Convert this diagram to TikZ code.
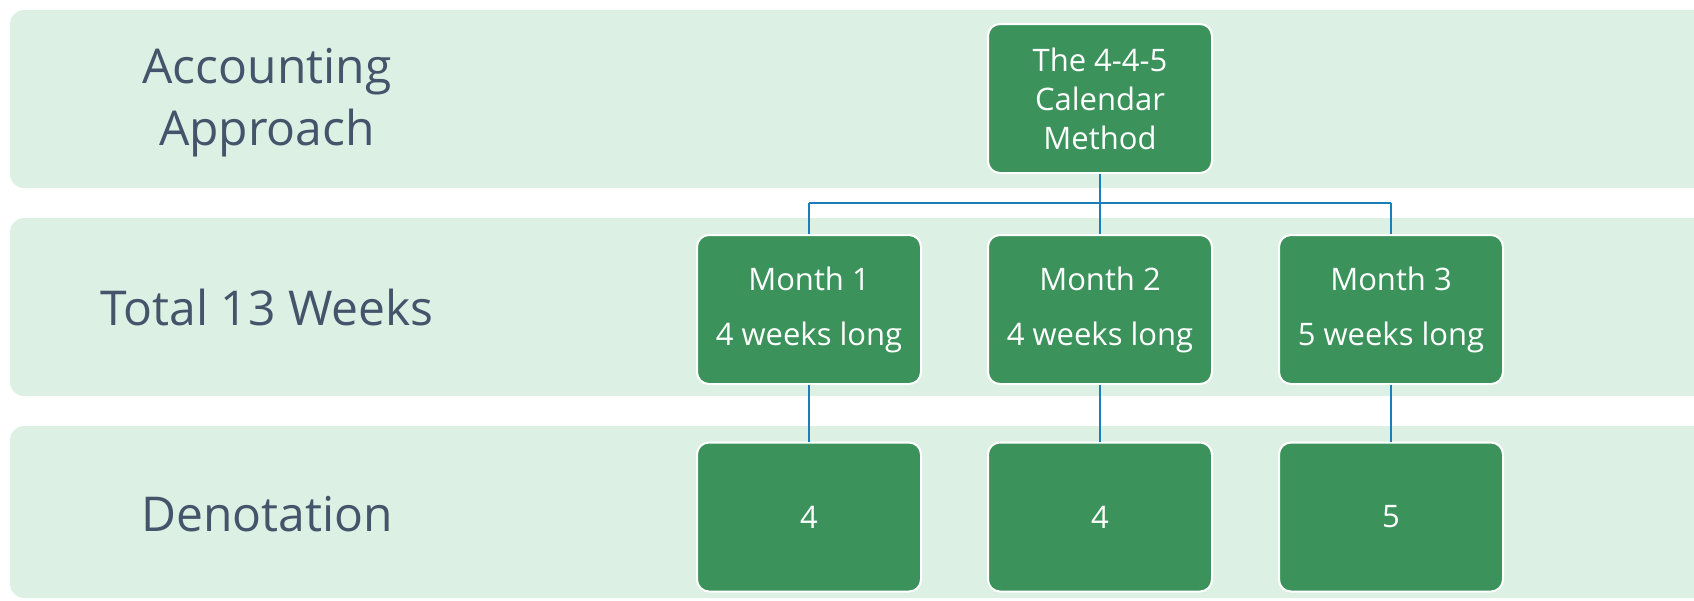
\documentclass[tikz,border=0pt]{standalone}
\usepackage{fontspec}
\setmainfont{Open Sans}
\definecolor{bandfill}{HTML}{DDF0E4}
\definecolor{boxfill}{HTML}{3B935B}
\definecolor{labeltext}{HTML}{44546A}
\definecolor{linkblue}{HTML}{1B7DB9}
\begin{document}
\begin{tikzpicture}[x=1pt,y=-1pt,
  band/.style={fill=bandfill,draw=none,rounded corners=14pt},
  rowlabel/.style={text=labeltext,align=center,font=\fontsize{48}{62}\selectfont},
  gbox/.style={draw=white,line width=2pt,fill=boxfill,rounded corners=12pt,
    minimum width=224pt,minimum height=149pt,text=white,align=center,inner sep=0pt,
    font=\fontsize{31}{39}\selectfont},
  mbox/.style={gbox,font=\fontsize{31}{55}\selectfont},
  link/.style={draw=linkblue,line width=2.4pt}]
\useasboundingbox (0,0) rectangle (1694,600);
\clip (0,0) rectangle (1694,600);
% bands
\path[band] (10,10) rectangle (1720,188);
\path[band] (10,218) rectangle (1720,396);
\path[band] (10,426) rectangle (1720,598);
% row labels
\node[rowlabel] (l1) at (267,103) {Accounting\\Approach};
\node[rowlabel] (l2) at (267,307) {Total 13 Weeks};
\node[rowlabel] (l3) at (267,514) {Denotation};
% junction points
\coordinate (j) at (1100,203);
\coordinate (j1) at (809,203);
\coordinate (j3) at (1391,203);
% boxes
\node[gbox] (top) at (1100,98.5) {The 4-4-5\\Calendar\\Method};
\node[mbox] (m1) at (809,309.5) {Month 1\\4 weeks long};
\node[mbox] (m2) at (1100,309.5) {Month 2\\4 weeks long};
\node[mbox] (m3) at (1391,309.5) {Month 3\\5 weeks long};
\node[gbox] (d1) at (809,517) {4};
\node[gbox] (d2) at (1100,517) {4};
\node[gbox] (d3) at (1391,517) {5};
% links
\draw[link] (top.south) -- (j);
\draw[link] (j1) -- (j3);
\draw[link] (j1) -- (m1.north);
\draw[link] (j) -- (m2.north);
\draw[link] (j3) -- (m3.north);
\draw[link] (m1.south) -- (d1.north);
\draw[link] (m2.south) -- (d2.north);
\draw[link] (m3.south) -- (d3.north);
\end{tikzpicture}
\end{document}
